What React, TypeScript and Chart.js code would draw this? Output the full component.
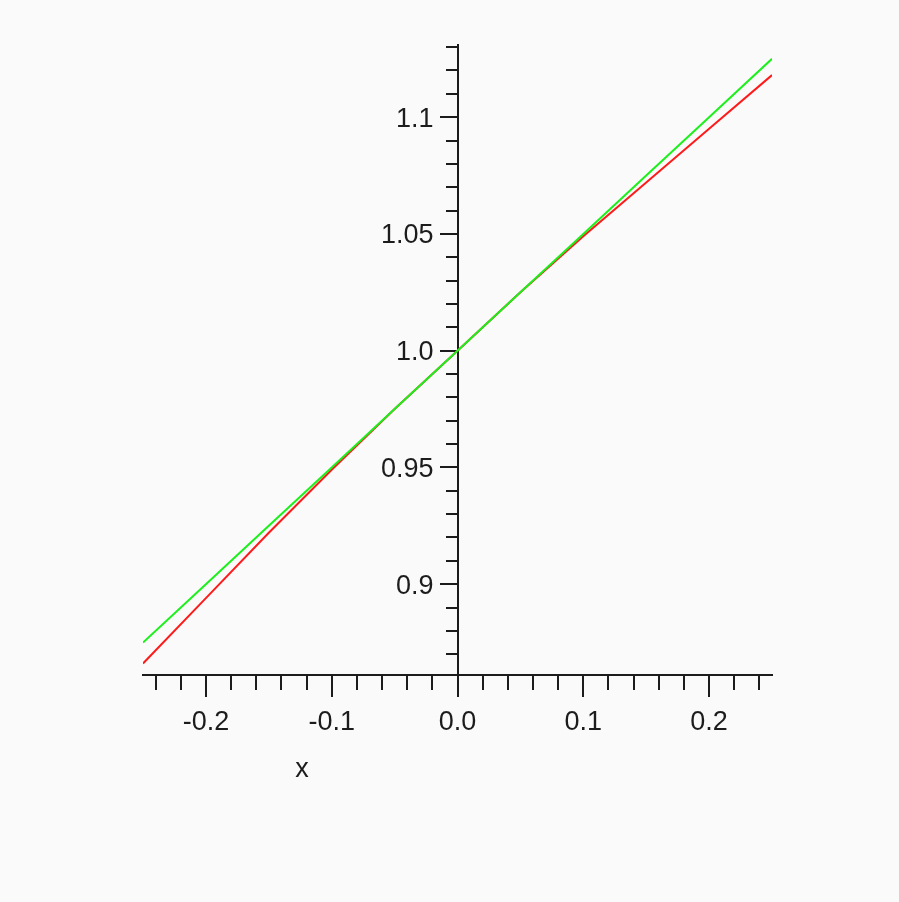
import React, { useEffect, useRef } from "react";
import { Chart, registerables } from "chart.js";

Chart.register(...registerables);

// Sample abscissae and the two curves read at them
const xs = [-0.25, -0.2, -0.15, -0.1, -0.05, 0, 0.05, 0.1, 0.15, 0.2, 0.25];
const redValues = [0.866, 0.894, 0.922, 0.949, 0.975, 1.0, 1.025, 1.049, 1.072, 1.095, 1.118];
const greenValues = [0.875, 0.9, 0.925, 0.95, 0.975, 1.0, 1.025, 1.05, 1.075, 1.1, 1.125];

// Axis extents
const xMin = -0.25;
const xMax = 0.25;
const yMin = 0.8611;
const yMax = 1.1309;

// Tick positions and their labels
const xMajorTicks = [-0.2, -0.1, 0.0, 0.1, 0.2];
const xMajorLabels = ["-0.2", "-0.1", "0.0", "0.1", "0.2"];
const xMinorTicks = [
  -0.24, -0.22, -0.18, -0.16, -0.14, -0.12, -0.08, -0.06, -0.04, -0.02,
  0.02, 0.04, 0.06, 0.08, 0.12, 0.14, 0.16, 0.18, 0.22, 0.24,
];
const yMajorTicks = [0.9, 0.95, 1.0, 1.05, 1.1];
const yMajorLabels = ["0.9", "0.95", "1.0", "1.05", "1.1"];
const yMinorTicks = [
  0.87, 0.88, 0.89, 0.91, 0.92, 0.93, 0.94, 0.96, 0.97, 0.98, 0.99,
  1.01, 1.02, 1.03, 1.04, 1.06, 1.07, 1.08, 1.09, 1.11, 1.12, 1.13,
];
const axisTitle = "x";

const INK = "#1c1c1c";
const FONT = "'Liberation Sans', Arial, sans-serif";
const Y_MAJOR_TICK = 17;
const Y_LABEL_GAP = 7;

const fixedTicks = (values: number[]) => (scale: any) => {
  scale.ticks = values.map((v) => ({ value: v }));
};

const labelFor = (values: number[], labels: string[]) => (value: number) => {
  const i = values.findIndex((v) => Math.abs(v - value) < 1e-9);
  return i >= 0 ? labels[i] : "";
};

// Labels of the crossing y axis sit to the left of its tick marks,
// and the x axis title sits below the left half of the axis.
const axisTextPlugin = {
  id: "axisText",
  afterDraw(chart: any) {
    const { ctx, chartArea, scales } = chart;
    const xScale = scales.x;
    const yScale = scales.y;
    const axisX = xScale.getPixelForValue(0);
    ctx.save();
    ctx.fillStyle = INK;
    ctx.font = `27px ${FONT}`;
    ctx.textAlign = "right";
    ctx.textBaseline = "middle";
    yMajorTicks.forEach((v, i) => {
      ctx.fillText(yMajorLabels[i], axisX - Y_MAJOR_TICK - Y_LABEL_GAP, yScale.getPixelForValue(v) + 2);
    });
    ctx.textAlign = "center";
    ctx.fillText(axisTitle, chartArea.left + 159, chartArea.bottom + 95);
    ctx.restore();
  },
};

export default function App() {
  const canvasRef = useRef<HTMLCanvasElement | null>(null);

  useEffect(() => {
    if (!canvasRef.current) return;
    const tickFont = { family: FONT, size: 27 };
    const chart = new Chart(canvasRef.current, {
      type: "line",
      data: {
        datasets: [
          {
            label: "green",
            data: xs.map((x, i) => ({ x, y: greenValues[i] })),
            borderColor: "#1cf01c",
            borderWidth: 2,
            pointRadius: 0,
            tension: 0,
            order: 0,
          },
          {
            label: "red",
            data: xs.map((x, i) => ({ x, y: redValues[i] })),
            borderColor: "#ff1a1a",
            borderWidth: 2,
            pointRadius: 0,
            tension: 0,
            order: 1,
          },
        ],
      },
      options: {
        responsive: false,
        animation: false,
        layout: { padding: { left: 143, right: 127, top: 45, bottom: 227 } },
        plugins: { legend: { display: false }, tooltip: { enabled: false } },
        scales: {
          x: {
            type: "linear",
            min: xMin,
            max: xMax,
            position: { y: yMin },
            afterBuildTicks: fixedTicks(xMajorTicks),
            grid: { drawOnChartArea: false, drawTicks: true, tickLength: 21, color: INK, lineWidth: 2 },
            border: { display: true, color: INK, width: 2 },
            ticks: {
              autoSkip: false,
              maxRotation: 0,
              padding: 10,
              color: INK,
              font: tickFont,
              callback: labelFor(xMajorTicks, xMajorLabels),
            },
          },
          xMinor: {
            type: "linear",
            axis: "x",
            min: xMin,
            max: xMax,
            position: { y: yMin },
            afterBuildTicks: fixedTicks(xMinorTicks),
            grid: { drawOnChartArea: false, drawTicks: true, tickLength: 15, color: INK, lineWidth: 2 },
            border: { display: false },
            ticks: { display: false },
          },
          y: {
            type: "linear",
            min: yMin,
            max: yMax,
            position: { x: 0 },
            afterBuildTicks: fixedTicks(yMajorTicks),
            grid: { drawOnChartArea: false, drawTicks: true, tickLength: Y_MAJOR_TICK, color: INK, lineWidth: 2 },
            border: { display: true, color: INK, width: 2 },
            ticks: { display: false },
          },
          yMinor: {
            type: "linear",
            axis: "y",
            min: yMin,
            max: yMax,
            position: { x: 0 },
            afterBuildTicks: fixedTicks(yMinorTicks),
            grid: { drawOnChartArea: false, drawTicks: true, tickLength: 12, color: INK, lineWidth: 2 },
            border: { display: false },
            ticks: { display: false },
          },
        },
      },
      plugins: [axisTextPlugin],
    });
    return () => chart.destroy();
  }, []);

  return (
    <div
      style={{
        position: "absolute",
        left: 0,
        top: 0,
        width: 899,
        height: 902,
        background: "#fafafa",
      }}
    >
      <canvas ref={canvasRef} width={899} height={902} style={{ display: "block" }} />
    </div>
  );
}
